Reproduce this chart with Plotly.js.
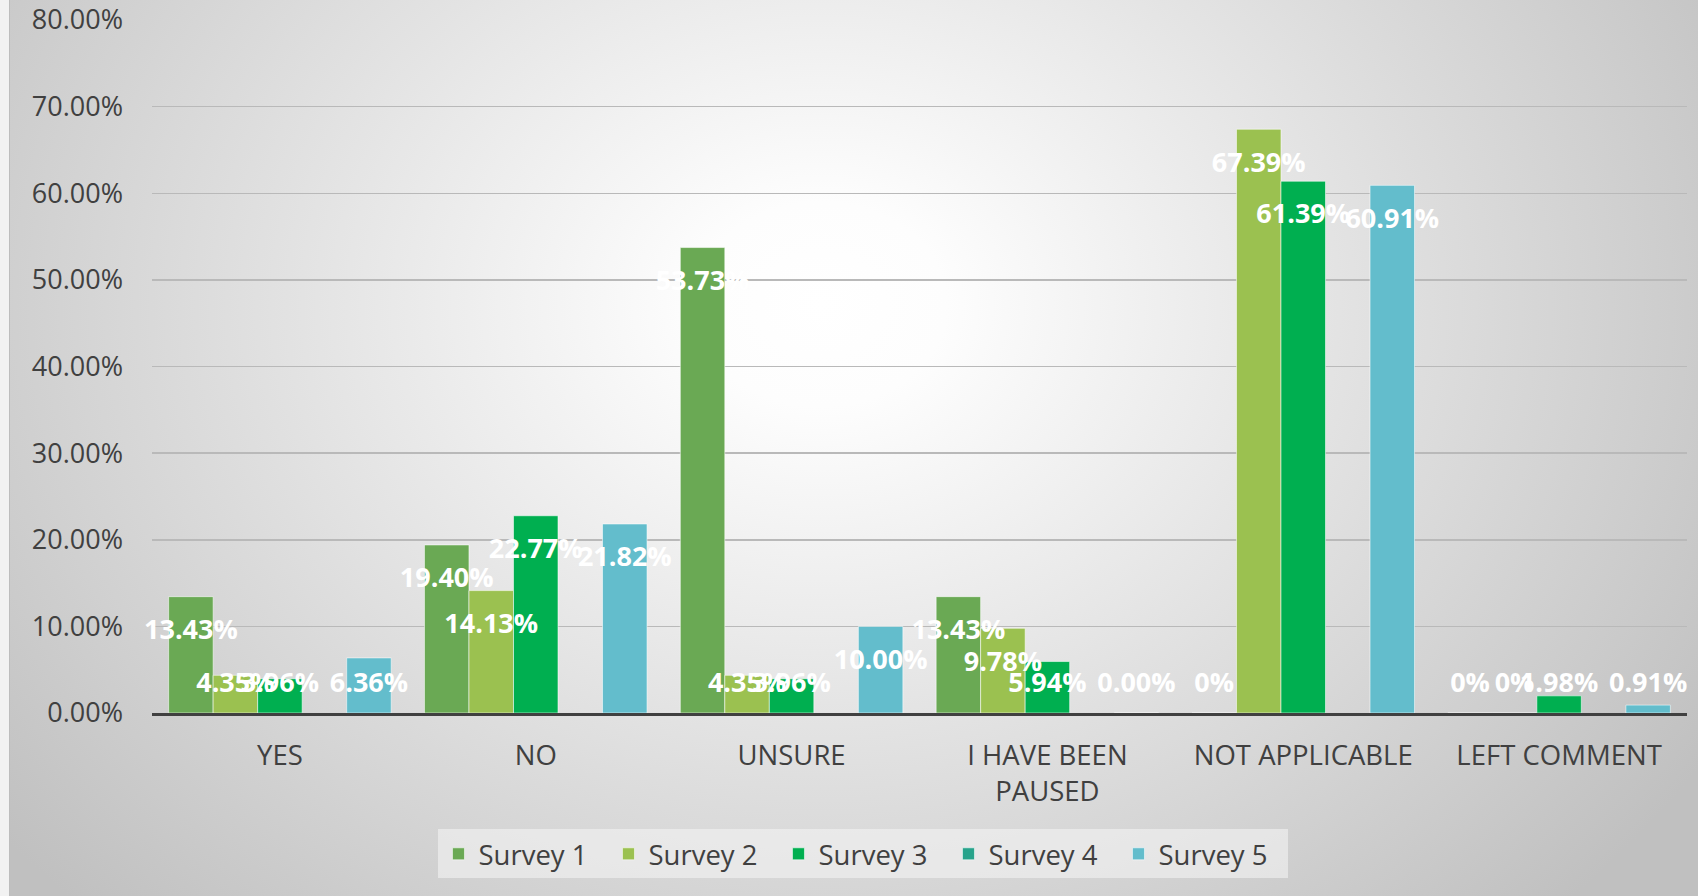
<!DOCTYPE html>
<html>
<head>
<meta charset="utf-8">
<script src="https://cdn.plot.ly/plotly-3.0.1.min.js"></script>
<style>
  html, body { margin: 0; padding: 0; background: #f2f2f2; }
  #wrap { position: relative; width: 1698px; height: 896px; overflow: hidden; }
  #bg { position: absolute; left: 9px; top: 0; width: 1689px; height: 896px;
        border-left: 1px solid #bdbdbd;
        background: radial-gradient(ellipse 62% 95% at 48% 34%, #ffffff 0%, #fdfdfd 12%, #c0c0c0 100%); }
  #chart { position: absolute; left: 0; top: 0; width: 1698px; height: 896px; }
</style>
</head>
<body>
<div id="wrap"><div id="bg"></div><div id="chart"></div></div>
<script>
// ---- data ----
const categories = ['YES', 'NO', 'UNSURE', 'I HAVE BEEN<br>PAUSED', 'NOT APPLICABLE', 'LEFT COMMENT'];
const seriesNames = ['Survey 1', 'Survey 2', 'Survey 3', 'Survey 4', 'Survey 5'];
const survey1 = [13.43, 19.40, 53.73, 13.43, 0, 0];
const survey2 = [4.35, 14.13, 4.35, 9.78, 67.39, 0];
const survey3 = [3.96, 22.77, 3.96, 5.94, 61.39, 1.98];
const survey4 = [null, null, null, null, null, null];
const survey5 = [6.36, 21.82, 10.00, 0.00, 60.91, 0.91];
const yTickValues = [0, 10, 20, 30, 40, 50, 60, 70, 80];
const yTickLabels = yTickValues.map(v => v.toFixed(2) + '%');

// ---- styling ----
const seriesValues = [survey1, survey2, survey3, survey4, survey5];
const colors = ['#6aa954', '#9bc150', '#00af50', '#27a38b', '#63bdcc'];
const zeroAsInteger = [true, true, true, true, false];   // label style for zeros
const labelDrop = 4.1;    // label sits this far (in %) below bar end
const labelFloor = 3.15;  // minimum label height (in %)
const GAP = 0.13;

function fmt(v, i) {
  if (v === null) return '';
  if (v === 0 && zeroAsInteger[i]) return '0%';
  return v.toFixed(2) + '%';
}

const traces = [];
seriesValues.forEach((vals, i) => {
  traces.push({
    type: 'bar', name: seriesNames[i], x: categories, y: vals,
    alignmentgroup: 'a', offsetgroup: 'g' + i,
    marker: { color: colors[i], line: { color: 'rgba(255,255,255,0.55)', width: 1 } },
    hoverinfo: 'skip'
  });
});
seriesValues.forEach((vals, i) => {
  traces.push({
    type: 'scatter', mode: 'text', showlegend: false,
    x: categories,
    y: vals.map(v => v === null ? null : Math.max(v - labelDrop, labelFloor)),
    text: vals.map(v => fmt(v, i)),
    alignmentgroup: 'a', offsetgroup: 'g' + i,
    textposition: 'middle center',
    textfont: { family: 'Open Sans', size: 27, color: '#ffffff', weight: 'bold' },
    hoverinfo: 'skip', cliponaxis: false
  });
});

const layout = {
  width: 1698, height: 896,
  paper_bgcolor: 'rgba(0,0,0,0)', plot_bgcolor: 'rgba(0,0,0,0)',
  margin: { l: 152, r: 11, t: 20, b: 183 },
  barmode: 'group', bargap: GAP, bargroupgap: 0,
  scattermode: 'group', scattergap: GAP,
  font: { family: 'Open Sans', color: '#404040' },
  xaxis: {
    type: 'category', showgrid: false, showline: true, linecolor: '#404040', linewidth: 3,
    ticks: '', tickfont: { size: 27.5, color: '#404040' }, ticklabelstandoff: 16,
    fixedrange: true
  },
  yaxis: {
    range: [0, 80], tickmode: 'array', tickvals: yTickValues, ticktext: yTickLabels,
    showgrid: true, gridcolor: '#b9b9b9', gridwidth: 1.5, zeroline: false, showline: false,
    ticks: '', tickfont: { size: 27, color: '#404040' }, ticklabelstandoff: 28,
    fixedrange: true
  },
  showlegend: true,
  legend: {
    orientation: 'h', x: 0.4635, xanchor: 'center', y: -0.168, yanchor: 'top',
    bgcolor: 'rgba(244,244,244,0.6)', borderwidth: 0,
    font: { size: 27.5, color: '#404040' }, entrywidth: 125, itemclick: false
  }
};

Plotly.newPlot('chart', traces, layout, { displayModeBar: false, staticPlot: true });
</script>
</body>
</html>
